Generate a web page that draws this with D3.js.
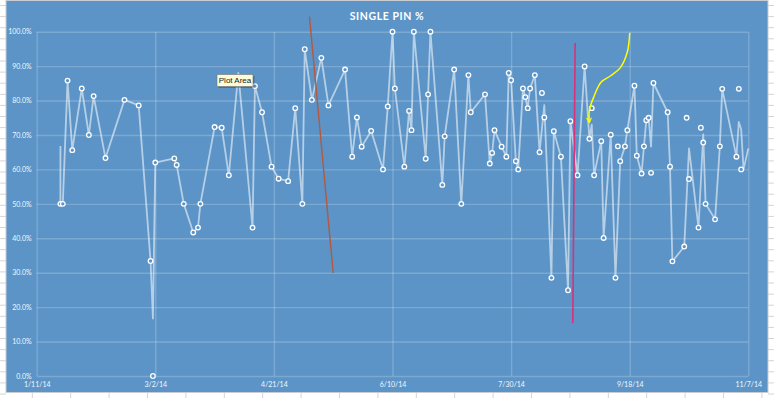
<!DOCTYPE html>
<html>
<head>
<meta charset="utf-8">
<script src="https://cdn.jsdelivr.net/npm/d3@7"></script>
<style>
  body { margin: 0; background: #fff; }
  svg { display: block; }
</style>
</head>
<body>
<div id="chart"></div>
<script>
/*******************************************************************************
                               SINGLE PIN % chart
   Marker series and line series are kept apart: in the source sheet the line
   does not pass through every marker.
*******************************************************************************/

var startDate = new Date(2014, 0, 11)
var tickDays = [0, 50, 100, 150, 200, 250, 300]
var yTicks = [0, 10, 20, 30, 40, 50, 60, 70, 80, 90, 100]
var title = "SINGLE PIN %"

// days after 1/11/14 and single pin % for each marker
var markerDays = [10, 11, 13, 15, 19, 22, 24, 29, 37, 43, 48, 49, 50, 58, 59, 62, 66, 68, 69, 75,
  78, 81, 91, 92, 95, 99, 102, 106, 109, 112, 113, 116, 120, 123, 130, 133, 135, 137, 141, 146,
  148, 150, 151, 155, 157, 158, 159, 164, 165, 166, 171, 172, 176, 179, 182, 183, 189, 191, 192, 193,
  196, 198, 199, 200, 202, 203, 205, 206, 207, 208, 210, 212, 213, 214, 217, 218, 221, 224, 225, 228,
  231, 233, 234, 235, 238, 239, 242, 244, 245, 246, 248, 249, 252, 253, 255, 256, 257, 258, 259, 260,
  266, 267, 268, 273, 274, 275, 279, 280, 281, 282, 286, 288, 289, 295, 296, 297]
var markerPct = [50.0, 50.0, 85.8, 65.6, 83.5, 70.0, 81.3, 63.3, 80.2, 78.6, 33.4, 0.0, 62.0, 63.2, 61.3, 50.0, 41.7, 43.1, 50.0, 72.3,
  72.1, 58.3, 43.1, 84.2, 76.6, 60.8, 57.3, 56.6, 77.8, 50.0, 94.9, 80.2, 92.4, 78.6, 89.0, 63.7, 75.1, 66.6, 71.2, 60.0,
  78.3, 100, 83.5, 60.8, 77.0, 71.4, 100, 63.1, 81.8, 100, 55.5, 69.6, 89.0, 50.0, 87.4, 76.6, 81.8, 61.7, 64.8, 71.4,
  66.6, 63.7, 88.0, 85.9, 62.4, 60.0, 83.5, 81.0, 77.8, 83.5, 87.4, 65.0, 82.2, 75.1, 28.5, 71.1, 63.7, 24.9, 74.0, 58.3,
  89.9, 68.9, 77.8, 58.3, 68.2, 40.1, 70.1, 28.5, 66.7, 62.4, 66.7, 71.4, 84.3, 64.0, 58.8, 66.7, 74.3, 75.0, 59.0, 85.1,
  76.6, 60.8, 33.3, 37.6, 75.0, 57.2, 43.1, 72.1, 67.8, 50.0, 45.5, 66.7, 83.4, 63.7, 83.4, 60.0]

// vertices of the connecting line
var lineDays = [10, 10, 11, 13, 15, 19, 22, 24, 29, 37, 43, 48, 49, 50, 58, 59, 62, 66, 68, 69,
  75, 78, 81, 85, 91, 92, 95, 99, 102, 106, 109, 112, 113, 116, 120, 123, 130, 133, 135, 137,
  141, 146, 148, 150, 151, 155, 157, 158, 159, 164, 165, 166, 171, 172, 176, 179, 182, 183, 189, 191,
  192, 193, 196, 198, 199, 200, 202, 203, 205, 206, 207, 208, 210, 212, 214, 217, 218, 221, 224, 225,
  228, 231, 233, 234, 235, 238, 239, 242, 244, 246, 248, 249, 252, 253, 255, 257, 258, 259, 260, 266,
  267, 268, 273, 275, 279, 281, 282, 286, 288, 289, 295, 296, 297, 298, 300]
var linePct = [66.8, 50.0, 50.0, 85.8, 65.6, 83.5, 70.0, 81.3, 63.3, 80.2, 78.6, 33.4, 16.7, 62.0, 63.2, 61.3, 50.0, 41.7, 43.1, 50.0,
  72.3, 72.1, 58.3, 88.0, 43.1, 84.2, 76.6, 60.8, 57.3, 56.6, 77.8, 50.0, 94.9, 80.2, 92.4, 78.6, 89.0, 63.7, 75.1, 66.6,
  71.2, 60.0, 78.3, 100, 83.5, 60.8, 77.0, 71.4, 100, 63.1, 81.8, 100, 55.5, 69.6, 89.0, 50.0, 87.4, 76.6, 81.8, 61.7,
  64.8, 71.4, 66.6, 63.7, 88.0, 85.9, 62.4, 60.0, 83.5, 81.0, 77.8, 83.5, 87.4, 65.0, 78.7, 28.5, 71.1, 63.7, 24.9, 74.0,
  58.3, 89.9, 68.9, 73.0, 58.3, 68.2, 40.1, 70.1, 28.5, 62.4, 66.7, 71.4, 84.3, 64.0, 58.8, 74.3, 75.0, 66.6, 85.1, 76.6,
  60.8, 33.3, 37.6, 66.1, 43.1, 70.2, 50.0, 45.5, 66.7, 83.4, 63.7, 73.8, 71.6, 60.0, 66.1]

// hand drawn annotations, in [day, pct]
var brownStroke = [[115.3, 104.4], [125.3, 29.9]]
var pinkStroke = [[227.4, 96.7], [226.5, 15.3]]
var yellowArrow = [[250.1, 99.6], [249.7, 94.1], [246.8, 89.5], [242.1, 87.2], [238.8, 85.4],
  [235.4, 81.3], [233.7, 77.2], [233.3, 73.6]]

var width = 774, height = 398
var blue = "#5c94c7"

var svg = d3.select("#chart").append("svg")
    .attr("width", width)
    .attr("height", height)

// spreadsheet cells showing round the chart
var sheet = svg.append("g").attr("stroke", "#d4d4d4").attr("stroke-width", 1)
d3.range(5.5, height, 11.1).forEach(function(y) {
  sheet.append("line").attr("x1", 0).attr("x2", 6).attr("y1", y).attr("y2", y)
  sheet.append("line").attr("x1", 768).attr("x2", width).attr("y1", y).attr("y2", y)
})
d3.range(32.3, 768, 38.4).forEach(function(x) {
  sheet.append("line").attr("x1", x).attr("x2", x).attr("y1", 392).attr("y2", height)
})

// chart area
svg.append("rect")
    .attr("x", 6).attr("y", 0.5)
    .attr("width", 762).attr("height", 392)
    .attr("fill", blue)
    .attr("stroke", "#c8cdd3")
    .attr("stroke-width", 1)

var x = d3.scaleTime()
    .domain([startDate, d3.timeDay.offset(startDate, 300)])
    .range([36.7, 748.3])
var y = d3.scaleLinear()
    .domain([0, 100])
    .range([376, 31.7])

function day(d) { return d3.timeDay.offset(startDate, d) }

// gridlines + tick labels
var yAxis = svg.append("g")
    .attr("transform", "translate(36.7,0)")
    .call(d3.axisLeft(y).tickValues(yTicks).tickSize(-711.6).tickPadding(5)
      .tickFormat(function(d) { return d.toFixed(1) + "%" }))
var xAxis = svg.append("g")
    .attr("transform", "translate(0,376)")
    .call(d3.axisBottom(x).tickValues(tickDays.map(day)).tickSize(-344.3).tickPadding(5)
      .tickFormat(d3.timeFormat("%-m/%-d/%y")))

svg.selectAll(".domain").remove()
svg.selectAll(".tick line")
    .attr("stroke", "#ffffff")
    .attr("stroke-opacity", 0.2)
    .attr("stroke-width", 1.4)
svg.selectAll(".tick text")
    .attr("fill", "#f2f6fb")
    .attr("font-family", "Lato, 'Open Sans', sans-serif")
    .attr("font-size", 7)
xAxis.selectAll(".tick text").attr("dy", "0.9em")

svg.append("text")
    .attr("x", 387).attr("y", 19.5)
    .attr("text-anchor", "middle")
    .attr("fill", "#ffffff")
    .attr("font-family", "Lato, 'Open Sans', sans-serif")
    .attr("font-weight", "bold")
    .attr("font-size", 10.5)
    .attr("letter-spacing", 0.6)
    .text(title)

// line series
var linePts = lineDays.map(function(d, i) { return [day(d), linePct[i]] })
svg.append("path")
    .datum(linePts)
    .attr("fill", "none")
    .attr("stroke", "#ffffff")
    .attr("stroke-opacity", 0.55)
    .attr("stroke-width", 1.8)
    .attr("stroke-linejoin", "round")
    .attr("d", d3.line().x(function(d) { return x(d[0]) }).y(function(d) { return y(d[1]) }))

// markers
svg.append("g").selectAll("circle")
    .data(markerDays.map(function(d, i) { return [day(d), markerPct[i]] }))
    .enter().append("circle")
    .attr("cx", function(d) { return x(d[0]) })
    .attr("cy", function(d) { return y(d[1]) })
    .attr("r", 2.3)
    .attr("fill", blue)
    .attr("stroke", "#ffffff")
    .attr("stroke-width", 1.3)

// annotations
var annLine = d3.line()
    .x(function(d) { return x(day(d[0])) })
    .y(function(d) { return y(d[1]) })

svg.append("path").datum(brownStroke)
    .attr("d", annLine).attr("fill", "none")
    .attr("stroke", "#b4583e").attr("stroke-width", 1.4)
svg.append("path").datum(pinkStroke)
    .attr("d", annLine).attr("fill", "none")
    .attr("stroke", "#d9317a").attr("stroke-width", 1.6)

svg.append("defs").append("marker")
    .attr("id", "head")
    .attr("viewBox", "0 0 10 10")
    .attr("refX", 9).attr("refY", 5)
    .attr("markerWidth", 6).attr("markerHeight", 6)
    .attr("markerUnits", "userSpaceOnUse")
    .attr("orient", "auto")
  .append("path")
    .attr("d", "M1,1L9,5L1,9")
    .attr("fill", "none")
    .attr("stroke", "#ffff00")
    .attr("stroke-width", 2)

svg.append("path").datum(yellowArrow)
    .attr("d", annLine.curve(d3.curveCatmullRom))
    .attr("fill", "none")
    .attr("stroke", "#ffff00")
    .attr("stroke-width", 1.5)
    .attr("marker-end", "url(#head)")

// "Plot Area" hover tip from the screenshot
var tip = svg.append("g").attr("transform", "translate(217,74.5)")
tip.append("rect")
    .attr("x", 1.5).attr("y", 1.5).attr("width", 36).attr("height", 12)
    .attr("fill", "#000").attr("fill-opacity", 0.25)
tip.append("rect")
    .attr("width", 36).attr("height", 12)
    .attr("fill", "#fbfbd9")
    .attr("stroke", "#767676").attr("stroke-width", 0.6)
tip.append("text")
    .attr("x", 18).attr("y", 8.8)
    .attr("text-anchor", "middle")
    .attr("font-family", "'Liberation Sans', Arial, sans-serif")
    .attr("font-size", 8)
    .attr("fill", "#222")
    .text("Plot Area")
</script>
</body>
</html>
